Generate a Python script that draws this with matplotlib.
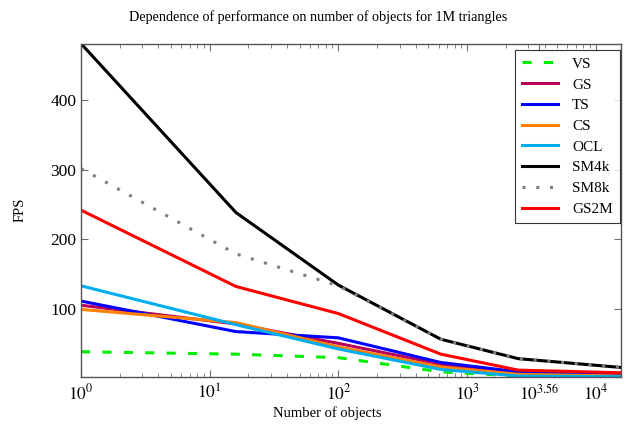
import matplotlib
matplotlib.use("Agg")
import matplotlib.pyplot as plt
from matplotlib.ticker import FixedLocator, LogLocator, NullFormatter

plt.rcParams['font.family'] = ['Liberation Serif', 'DejaVu Serif']
plt.rcParams['mathtext.fontset'] = 'stix'

# number of objects
objects = [1, 16, 100, 625, 2500, 15625]

# FPS for each method
vs = [38, 34.5, 29.5, 9, 3, 2]
gs = [105, 78, 50, 20, 6, 3.5]
ts = [111, 67, 58, 22.5, 9, 5.3]
cs = [99, 80, 45, 16, 5.5, 3]
ocl = [133, 77, 42, 12.5, 3, 2]
sm4k = [482, 238.5, 134, 56, 28, 15.4]
sm8k = [302, 179, 133, 56, 28, 15.4]
gs2m = [242, 132, 93, 34.5, 11.5, 7.7]

series = [
    ("VS", vs, "#00ee00", (0, (3, 4))),
    ("GS", gs, "#b8005a", "-"),
    ("TS", ts, "#0000ff", "-"),
    ("CS", cs, "#ff8000", "-"),
    ("OCL", ocl, "#00aeef", "-"),
    ("SM4k", sm4k, "black", "-"),
    ("SM8k", sm8k, "#808080", (0, (1, 3.5))),
    ("GS2M", gs2m, "#ff0000", "-"),
]

x_ticks = [1, 10, 100, 1000, 10 ** 3.56, 10000]
x_labels = [r"$10^{0}$", r"$10^{1}$", r"$10^{2}$", r"$10^{3}$", r"$10^{3.56}$", r"$10^{4}$"]
y_ticks = [100, 200, 300, 400]

fig = plt.figure(figsize=(6.29, 4.26), dpi=100)
ax = fig.add_axes([0.1288, 0.1157, 0.858, 0.782])

for name, vals, col, ls in series:
    ax.plot(objects, vals, color=col, linestyle=ls, linewidth=2.2, label=name)

ax.set_xscale('log')
ax.set_xlim(1, 15625)
ax.set_ylim(2, 482)

ax.xaxis.set_major_locator(FixedLocator(x_ticks))
ax.set_xticklabels(x_labels)
ax.xaxis.set_minor_locator(LogLocator(base=10, subs=range(2, 10), numticks=20))
ax.xaxis.set_minor_formatter(NullFormatter())
ax.set_yticks(y_ticks)

ax.tick_params(which='both', direction='in', top=True, right=True, color='#707070', labelsize=12.5)
ax.tick_params(which='major', length=5, width=0.8)
ax.tick_params(which='minor', length=3, width=0.6)
ax.tick_params(axis='x', pad=5)
for sp in ax.spines.values():
    sp.set_color('#555555')
    sp.set_linewidth(1.0)

ax.set_xlabel("Number of objects", fontsize=10.5, labelpad=2, x=0.456)
ax.set_ylabel("FPS", fontsize=10.5, labelpad=17)
ax.set_title("Dependence of performance on number of objects for 1M triangles",
             fontsize=10.2, pad=16, x=0.44)

leg = ax.legend(loc='upper right', bbox_to_anchor=(0.998, 0.98), borderaxespad=0, fontsize=11,
                frameon=True, fancybox=False, edgecolor='black', handlelength=2.4,
                labelspacing=0.46, borderpad=0.45, handletextpad=0.9)
leg.get_frame().set_linewidth(0.8)
for t in leg.get_texts():
    t.set_ha('center')

fig.savefig("out.png", dpi=100)
